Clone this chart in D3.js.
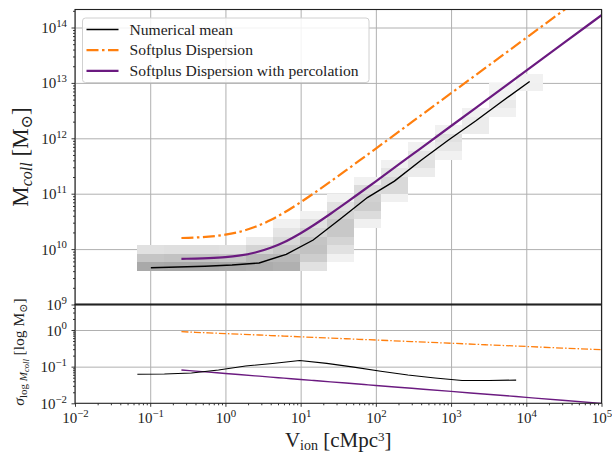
<!DOCTYPE html>
<html><head><meta charset="utf-8">
<script src="https://cdn.jsdelivr.net/npm/d3@7"></script>
<style>
body{margin:0;background:#fff}
text{font-family:"Liberation Serif","DejaVu Serif",serif;fill:#222}
</style>
</head><body>
<svg id="c" width="612" height="453"></svg>
<script>
// ---------------- data ----------------
// 2D histogram bin edges
const vBinEdges = [0.0675, 0.1545, 0.3532, 0.809, 1.854, 4.236, 9.70, 22.23, 50.9, 116.4, 266.7, 611, 1400, 3199, 7328, 16790];
const mBinEdges = [4.07e9, 5.81e9, 8.30e9, 1.183e10, 1.687e10, 2.41e10, 3.44e10, 4.90e10, 6.98e10, 9.98e10, 1.422e11, 2.03e11, 2.90e11, 4.13e11, 5.89e11, 8.41e11, 1.20e12, 1.71e12, 2.44e12, 3.48e12, 4.97e12, 7.08e12, 1.012e13, 1.442e13];
// per V-bin: first occupied M-bin and relative densities upward
const histStart = [0, 0, 0, 0, 0, 0, 0, 1, 5, 8, 11, 13, 16, 18, 21];
const histVals = [
  [0.84, 0.53, 0.22],
  [0.86, 0.56, 0.24],
  [0.86, 0.55, 0.24],
  [0.84, 0.52, 0.22],
  [0.80, 0.66, 0.36, 0.10],
  [0.76, 0.67, 0.49, 0.31, 0.18, 0.04],
  [0.22, 0.44, 0.56, 0.53, 0.36, 0.22, 0.04],
  [0.04, 0.22, 0.36, 0.49, 0.49, 0.36, 0.22, 0.04],
  [0.06, 0.27, 0.44, 0.40, 0.27, 0.04],
  [0.06, 0.31, 0.31, 0.18, 0.04],
  [0.10, 0.22, 0.18, 0.04],
  [0.04, 0.15, 0.22, 0.04],
  [0.10, 0.10, 0.04],
  [0.04, 0.12, 0.04, 0.02],
  [0.06, 0.04]
];
// numerical mean (bin centres)
const meanV = [0.102, 0.234, 0.535, 1.225, 2.805, 6.43, 14.69, 33.65, 77.1, 176.6, 403.6, 924.7, 2118, 4842, 11090];
const meanM = [4.61e9, 4.75e9, 4.91e9, 5.16e9, 5.61e9, 8.05e9, 1.46e10, 3.49e10, 8.53e10, 1.69e11, 4.06e11, 9.31e11, 2.05e12, 4.71e12, 1.06e13];
// numerical scatter (plotted at lower bin edges)
const sigmaV = [0.0675, 0.1545, 0.3532, 0.809, 1.854, 4.236, 9.70, 22.23, 50.9, 116.4, 266.7, 611, 1400, 3199, 7328];
const sigmaMean = [0.062, 0.063, 0.067, 0.081, 0.104, 0.122, 0.147, 0.123, 0.097, 0.075, 0.059, 0.049, 0.042, 0.042, 0.043];
// models
const modelV = [0.26, 0.4, 0.6, 1, 1.5, 2.5, 4, 6, 10, 15, 25, 40, 70, 100, 300, 1000, 3000, 1e4, 3e4, 1e5];
const softplusM = [1.585e10, 1.618e10, 1.679e10, 1.820e10, 2.032e10, 2.523e10, 3.350e10, 4.539e10, 7.015e10, 1.019e11, 1.660e11, 2.630e11, 4.581e11, 6.531e11, 1.954e12, 6.516e12, 1.954e13, 6.516e13, 1.954e14, 6.516e14];
const percolationM = [6.68e9, 6.745e9, 6.871e9, 7.161e9, 7.603e9, 8.670e9, 1.054e10, 1.330e10, 1.936e10, 2.723e10, 4.345e10, 6.808e10, 1.178e11, 1.675e11, 5.012e11, 1.667e12, 5.000e12, 1.667e13, 5.000e13, 1.667e14];
const softplusSigma = [0.900, 0.866, 0.836, 0.799, 0.771, 0.737, 0.707, 0.683, 0.653, 0.630, 0.602, 0.577, 0.550, 0.533, 0.484, 0.435, 0.395, 0.355, 0.322, 0.290];
const percolationSigma = [0.0811, 0.0756, 0.0708, 0.0651, 0.0610, 0.0561, 0.0519, 0.0486, 0.0447, 0.0419, 0.0385, 0.0357, 0.0326, 0.0307, 0.0257, 0.0211, 0.0177, 0.0145, 0.0121, 0.00998];
const xTickExp = [-2, -1, 0, 1, 2, 3, 4, 5];
const yTopTickExp = [9, 10, 11, 12, 13, 14];
const yBotTickExp = [-2, -1, 0];
const legendLabels = ["Numerical mean", "Softplus Dispersion", "Softplus Dispersion with percolation"];

// ---------------- layout ----------------
const L = 75, R = 601.5, T = 9.5, MID = 304.5, B = 403.3;
const svg = d3.select("#c");
const x = d3.scaleLog().domain([1e-2, 1e5]).range([L, R]);
const yT = d3.scaleLog().domain([1e9, Math.pow(10, 14.325)]).range([MID, T]);
const yB = d3.scaleLog().domain([1e-2, Math.pow(10, 0.696)]).range([B, MID]);
const shade = d3.scaleLinear().domain([0, 1]).range(["#f5f5f5", "#9a9a9a"]);
const C_BLACK = "#000", C_ORANGE = "#ff7f0e", C_PURPLE = "#6b1a80", GRID = "#b0b0b0";

const defs = svg.append("defs");
defs.append("clipPath").attr("id", "clipT").append("rect").attr("x", L).attr("y", T).attr("width", R - L).attr("height", MID - T);
defs.append("clipPath").attr("id", "clipB").append("rect").attr("x", L).attr("y", MID).attr("width", R - L).attr("height", B - MID);

function decades(a, b) { const out = []; for (let e = a; e <= b; e++) out.push(Math.pow(10, e)); return out; }
function minors(a, b, scale) {
  const out = []; const [d0, d1] = scale.domain();
  for (let e = a; e <= b; e++) for (let k = 2; k <= 9; k++) { const v = k * Math.pow(10, e); if (v > d0 && v < d1) out.push(v); }
  return out;
}
function expLabel(sel, e, size) {
  sel.append("tspan").text("10").attr("font-size", size);
  sel.append("tspan").text(e < 0 ? "\u2212" + (-e) : String(e)).attr("font-size", size * 0.72).attr("dy", -size * 0.42);
}

// grids
const gT = svg.append("g");
gT.append("g").attr("transform", `translate(0,${MID})`).call(d3.axisBottom(x).tickValues(decades(-2, 5)).tickSize(-(MID - T)).tickFormat(""))
  .call(g => { g.select(".domain").remove(); g.selectAll("line").attr("stroke", GRID).attr("stroke-width", 1); });
gT.append("g").attr("transform", `translate(${L},0)`).call(d3.axisLeft(yT).tickValues(decades(10, 14)).tickSize(-(R - L)).tickFormat(""))
  .call(g => { g.select(".domain").remove(); g.selectAll("line").attr("stroke", GRID).attr("stroke-width", 1); });
const gB = svg.append("g");
gB.append("g").attr("transform", `translate(0,${B})`).call(d3.axisBottom(x).tickValues(decades(-2, 5)).tickSize(-(B - MID)).tickFormat(""))
  .call(g => { g.select(".domain").remove(); g.selectAll("line").attr("stroke", GRID).attr("stroke-width", 1); });
gB.append("g").attr("transform", `translate(${L},0)`).call(d3.axisLeft(yB).tickValues(decades(-1, 0)).tickSize(-(R - L)).tickFormat(""))
  .call(g => { g.select(".domain").remove(); g.selectAll("line").attr("stroke", GRID).attr("stroke-width", 1); });

// histogram cells
const cells = [];
histVals.forEach((col, i) => col.forEach((v, j) => cells.push({ i, r: histStart[i] + j, v })));
svg.append("g").attr("clip-path", "url(#clipT)").selectAll("rect").data(cells).join("rect")
  .attr("x", d => x(vBinEdges[d.i])).attr("width", d => x(vBinEdges[d.i + 1]) - x(vBinEdges[d.i]))
  .attr("y", d => yT(mBinEdges[d.r + 1])).attr("height", d => yT(mBinEdges[d.r]) - yT(mBinEdges[d.r + 1]))
  .attr("fill", d => shade(d.v)).attr("shape-rendering", "crispEdges");

// top lines
const topG = svg.append("g").attr("clip-path", "url(#clipT)");
const lineT = (xs, ys, curve) => d3.line().x((d, i) => x(xs[i])).y((d, i) => yT(ys[i])).curve(curve)(xs);
topG.append("path").attr("d", lineT(modelV, softplusM, d3.curveMonotoneX)).attr("fill", "none").attr("stroke", C_ORANGE).attr("stroke-width", 2.2).attr("stroke-dasharray", "12,3.5,2.5,3.5");
topG.append("path").attr("d", lineT(modelV, percolationM, d3.curveMonotoneX)).attr("fill", "none").attr("stroke", C_PURPLE).attr("stroke-width", 2.2);
topG.append("path").attr("d", lineT(meanV, meanM, d3.curveLinear)).attr("fill", "none").attr("stroke", C_BLACK).attr("stroke-width", 1.4);

// bottom lines
const botG = svg.append("g").attr("clip-path", "url(#clipB)");
const lineB = (xs, ys) => d3.line().x((d, i) => x(xs[i])).y((d, i) => yB(ys[i])).curve(d3.curveMonotoneX)(xs);
botG.append("path").attr("d", lineB(modelV, softplusSigma)).attr("fill", "none").attr("stroke", C_ORANGE).attr("stroke-width", 1.3).attr("stroke-dasharray", "7,2,1.5,2");
botG.append("path").attr("d", lineB(modelV, percolationSigma)).attr("fill", "none").attr("stroke", C_PURPLE).attr("stroke-width", 1.4);
botG.append("path").attr("d", d3.line().x((d, i) => x(sigmaV[i])).y((d, i) => yB(sigmaMean[i]))(sigmaV)).attr("fill", "none").attr("stroke", C_BLACK).attr("stroke-width", 1.1);

// axes ticks
function styleAxis(g) { g.select(".domain").remove(); g.selectAll("line").attr("stroke", "#222").attr("stroke-width", 0.9); }
const xa = svg.append("g").attr("transform", `translate(0,${B})`).call(d3.axisBottom(x).tickValues(decades(-2, 5)).tickSize(3.5).tickFormat("")).call(styleAxis);
svg.append("g").attr("transform", `translate(0,${B})`).call(d3.axisBottom(x).tickValues(minors(-2, 4, x)).tickSize(2).tickFormat("")).call(styleAxis);
xa.selectAll(".tick").each(function (d, i) {
  const t = d3.select(this).append("text").attr("y", 20).attr("text-anchor", "middle").attr("fill", "#222");
  expLabel(t, xTickExp[i], 15);
});
const ya = svg.append("g").attr("transform", `translate(${L},0)`).call(d3.axisLeft(yT).tickValues(decades(9, 14)).tickSize(3.5).tickFormat("")).call(styleAxis);
svg.append("g").attr("transform", `translate(${L},0)`).call(d3.axisLeft(yT).tickValues(minors(9, 14, yT)).tickSize(2).tickFormat("")).call(styleAxis);
ya.selectAll(".tick").each(function (d, i) {
  const t = d3.select(this).append("text").attr("x", -8).attr("y", 5).attr("text-anchor", "end").attr("fill", "#222");
  expLabel(t, yTopTickExp[i], 15);
});
const yb = svg.append("g").attr("transform", `translate(${L},0)`).call(d3.axisLeft(yB).tickValues(decades(-2, 0)).tickSize(3.5).tickFormat("")).call(styleAxis);
svg.append("g").attr("transform", `translate(${L},0)`).call(d3.axisLeft(yB).tickValues(minors(-2, 0, yB)).tickSize(2).tickFormat("")).call(styleAxis);
yb.selectAll(".tick").each(function (d, i) {
  const t = d3.select(this).append("text").attr("x", -8).attr("y", 5).attr("text-anchor", "end").attr("fill", "#222");
  expLabel(t, yBotTickExp[i], 15);
});

// frames
svg.append("rect").attr("x", L).attr("y", T).attr("width", R - L).attr("height", MID - T).attr("fill", "none").attr("stroke", "#222").attr("stroke-width", 1.1);
svg.append("rect").attr("x", L).attr("y", MID).attr("width", R - L).attr("height", B - MID).attr("fill", "none").attr("stroke", "#222").attr("stroke-width", 1.1);
svg.append("line").attr("x1", L).attr("x2", R).attr("y1", MID).attr("y2", MID).attr("stroke", "#222").attr("stroke-width", 1.8);

// legend
const lg = svg.append("g");
lg.append("rect").attr("x", 82.5).attr("y", 18).attr("width", 286.5).attr("height", 64.5).attr("rx", 3)
  .attr("fill", "#fff").attr("fill-opacity", 0.85).attr("stroke", "#d0d0d0").attr("stroke-width", 1);
const lgStyles = [
  { c: C_BLACK, w: 1.5, dash: null },
  { c: C_ORANGE, w: 2.2, dash: "12,3.5,2.5,3.5" },
  { c: C_PURPLE, w: 2.2, dash: null }
];
legendLabels.forEach((lab, i) => {
  const yy = 29.5 + i * 20.7;
  lg.append("line").attr("x1", 86.5).attr("x2", 118.5).attr("y1", yy).attr("y2", yy)
    .attr("stroke", lgStyles[i].c).attr("stroke-width", lgStyles[i].w).attr("stroke-dasharray", lgStyles[i].dash);
  lg.append("text").attr("x", 129.5).attr("y", yy + 5).attr("font-size", 15.6).text(lab);
});

// axis titles
const yl = svg.append("text").attr("transform", `translate(28,${(T + MID) / 2}) rotate(-90)`).attr("text-anchor", "middle").attr("font-size", 23);
yl.append("tspan").text("M");
yl.append("tspan").text("coll").attr("font-style", "italic").attr("font-size", 16).attr("dy", 4);
yl.append("tspan").text(" [M").attr("dy", -4);
yl.append("tspan").text("\u2299").attr("font-size", 16).attr("dy", 4);
yl.append("tspan").text("]").attr("dy", -4);

const yl2 = svg.append("text").attr("transform", `translate(24,352) rotate(-90)`).attr("text-anchor", "middle").attr("font-size", 15.5);
yl2.append("tspan").text("\u03c3").attr("font-style", "italic");
yl2.append("tspan").text("log ").attr("font-size", 11).attr("dy", 3);
yl2.append("tspan").text("M").attr("font-size", 11).attr("font-style", "italic");
yl2.append("tspan").text("coll").attr("font-size", 8.5).attr("font-style", "italic").attr("dy", 2);
yl2.append("tspan").text(" [log M").attr("dy", -5);
yl2.append("tspan").text("\u2299").attr("font-size", 11).attr("dy", 3);
yl2.append("tspan").text("]").attr("dy", -3);

const xl = svg.append("text").attr("x", (L + R) / 2).attr("y", 447).attr("text-anchor", "middle").attr("font-size", 21);
xl.append("tspan").text("V");
xl.append("tspan").text("ion").attr("font-size", 14).attr("dy", 2.5);
xl.append("tspan").text(" [cMpc").attr("dy", -2.5);
xl.append("tspan").text("3").attr("font-size", 13).attr("dy", -6);
xl.append("tspan").text("]").attr("dy", 6);
</script>
</body></html>
